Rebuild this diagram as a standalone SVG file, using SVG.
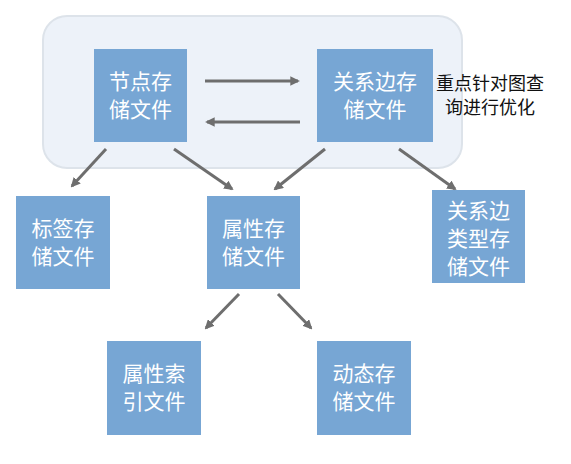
<svg xmlns="http://www.w3.org/2000/svg" width="571" height="464" viewBox="0 0 571 464">
<style>
.n{fill:#77a6d4}
.t{fill:#ffffff;font-family:"Noto Sans CJK SC",sans-serif;font-size:21px;text-anchor:middle}
.c line{stroke:#6e6e6e;stroke-width:3;marker-end:url(#ah)}
.lbl{fill:#111;font-family:"Noto Sans CJK SC",sans-serif;font-size:18px;text-anchor:middle}
</style>
<defs>
<marker id="ah" viewBox="0 0 10 10" refX="8" refY="5" markerWidth="3.2" markerHeight="3.2" orient="auto" markerUnits="strokeWidth">
<path d="M0,0 L10,5 L0,10 z" fill="#6e6e6e"/>
</marker>
</defs>
<rect x="43" y="16" width="419" height="152" rx="24" fill="#edf2f9" stroke="#dde3ea" stroke-width="2"/>
<g id="n1"><rect class="n" x="94" y="49" width="93" height="93"/><text class="t" x="140.5" y="89">节点存<tspan x="140.5" dy="28">储文件</tspan></text></g>
<g id="n2"><rect class="n" x="317" y="49" width="116" height="93"/><text class="t" x="375" y="89">关系边存<tspan x="375" dy="28">储文件</tspan></text></g>
<g id="n3"><rect class="n" x="16" y="196" width="94" height="93"/><text class="t" x="63" y="236">标签存<tspan x="63" dy="28">储文件</tspan></text></g>
<g id="n4"><rect class="n" x="207" y="196" width="93" height="93"/><text class="t" x="253.5" y="236">属性存<tspan x="253.5" dy="28">储文件</tspan></text></g>
<g id="n5"><rect class="n" x="432" y="190" width="93" height="93"/><text class="t" x="478.5" y="218">关系边<tspan x="478.5" dy="28">类型存</tspan><tspan x="478.5" dy="28">储文件</tspan></text></g>
<g id="n6"><rect class="n" x="107" y="341" width="94" height="94"/><text class="t" x="154" y="381">属性索<tspan x="154" dy="28">引文件</tspan></text></g>
<g id="n7"><rect class="n" x="317" y="341" width="94" height="94"/><text class="t" x="364" y="381">动态存<tspan x="364" dy="28">储文件</tspan></text></g>
<g id="lbl"><text class="lbl" x="490" y="90">重点针对图查<tspan x="490" dy="24">询进行优化</tspan></text></g>
<g class="c" id="connectors">
<line x1="205" y1="81" x2="298" y2="81"/>
<line x1="300" y1="122" x2="207" y2="122"/>
<line x1="106" y1="149" x2="72" y2="186"/>
<line x1="174" y1="149" x2="232" y2="189"/>
<line x1="325" y1="149" x2="275" y2="189"/>
<line x1="399" y1="149" x2="455" y2="189"/>
<line x1="239" y1="294" x2="206" y2="328"/>
<line x1="278" y1="294" x2="311" y2="328"/>
</g>
</svg>
